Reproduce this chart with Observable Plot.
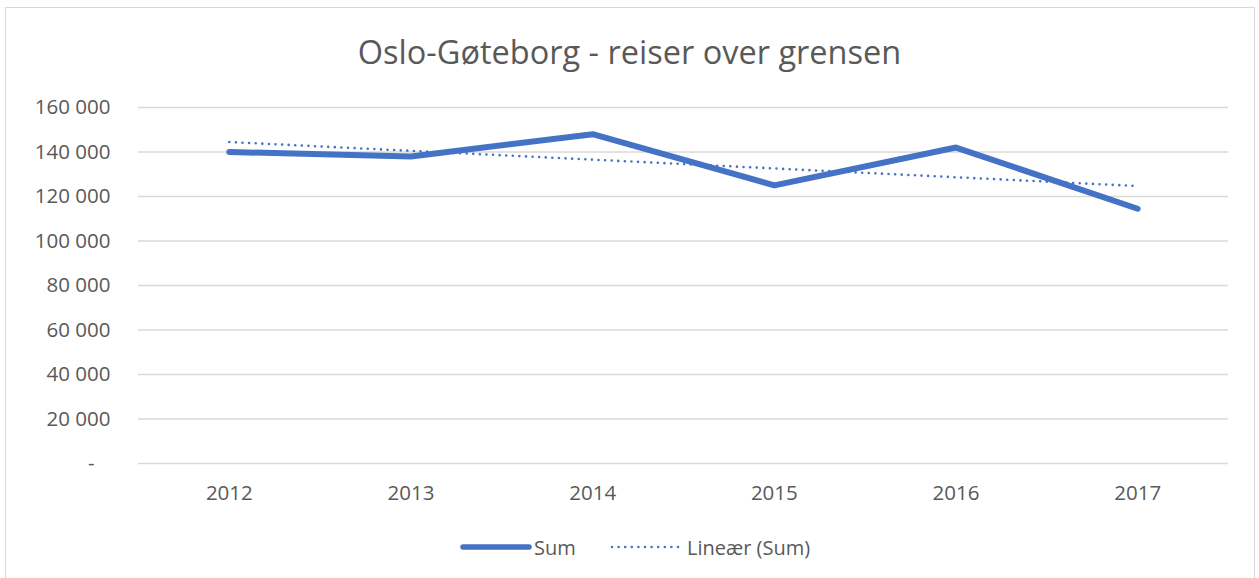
<!DOCTYPE html>
<html>
<head>
<meta charset="utf-8">
<script src="https://cdn.jsdelivr.net/npm/d3@7"></script>
<script src="https://cdn.jsdelivr.net/npm/@observablehq/plot@0.6"></script>
<style>
  html, body { margin: 0; padding: 0; background: #fff; }
  #frame { position: absolute; left: 5px; top: 7px; width: 1250px; height: 575px; border: 1.5px solid #d9d9d9; box-sizing: border-box; }
  #title { position: absolute; left: 0; top: 29px; width: 1259px; text-align: center; font-family: "Open Sans", sans-serif; font-size: 32.5px; color: #595959; font-weight: 400; }
  #chart { position: absolute; left: 0; top: 85px; }
  #legend { position: absolute; left: 0; top: 532px; width: 1259px; font-family: "Open Sans", sans-serif; font-size: 20px; color: #595959; }
  .item { position: absolute; top: 0; display: flex; align-items: center; height: 30px; }
</style>
</head>
<body>
<div id="frame"></div>
<div id="title">Oslo-Gøteborg - reiser over grensen</div>
<div id="chart"></div>
<div id="legend">
  <div class="item" style="left:460px"><svg width="72" height="10"><line x1="3" y1="5" x2="69" y2="5" stroke="#4472C4" stroke-width="5.5" stroke-linecap="round"/></svg><span style="margin-left:2px">Sum</span></div>
  <div class="item" style="left:610px"><svg width="72" height="10"><line x1="2" y1="5" x2="68" y2="5" stroke="#4472C4" stroke-width="2.6" stroke-linecap="round" stroke-dasharray="0 6.6"/></svg><span style="margin-left:5px">Lineær (Sum)</span></div>
</div>
<script>
const years = [2012, 2013, 2014, 2015, 2016, 2017];
const sums = [140000, 138000, 148000, 125000, 142000, 114500];
const yTicks = [0, 20000, 40000, 60000, 80000, 100000, 120000, 140000, 160000];

const data = years.map((y, i) => ({year: y, sum: sums[i]}));
const fmt = d => d === 0 ? "-\u00a0\u00a0\u00a0" : d3.format(",")(d).replace(/,/g, " ");
const blue = "#4472C4";

const chart = Plot.plot({
  width: 1259,
  height: 423,
  marginLeft: 138,
  marginRight: 31,
  marginTop: 22,
  marginBottom: 45,
  style: { fontFamily: "Open Sans, sans-serif", fontSize: "20.5px", color: "#595959", background: "transparent" },
  x: { domain: [2011.5, 2017.5], ticks: years, tickFormat: "d", tickSize: 0, tickPadding: 22, label: null },
  y: { domain: [0, 160000], ticks: yTicks, tickFormat: fmt, tickSize: 0, tickPadding: 28, label: null },
  marks: [
    Plot.ruleY(yTicks, { stroke: "#d9d9d9", strokeWidth: 1.5, strokeOpacity: 1 }),
    Plot.linearRegressionY(data, { x: "year", y: "sum", ci: 0, stroke: blue, strokeWidth: 2.6, strokeDasharray: "0 6.6", strokeLinecap: "round" }),
    Plot.line(data, { x: "year", y: "sum", stroke: blue, strokeWidth: 6, strokeLinecap: "round", strokeLinejoin: "round" })
  ]
});
document.getElementById("chart").appendChild(chart);
</script>
</body>
</html>
